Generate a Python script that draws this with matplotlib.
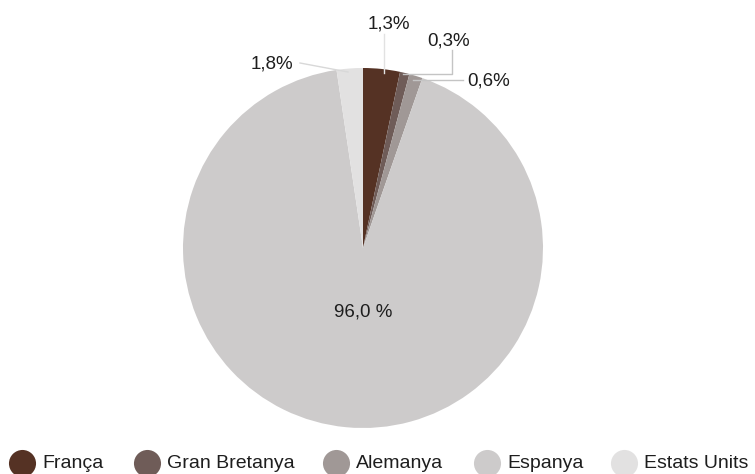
import matplotlib
matplotlib.use("Agg")
import matplotlib.pyplot as plt

plt.rcParams['font.family'] = ['Liberation Sans', 'DejaVu Sans']

# Data
categories = ["França", "Gran Bretanya", "Alemanya", "Espanya", "Estats Units"]
shares = [3.3, 0.85, 1.2, 92.3, 2.35]          # visual slice shares
labels = ["1,3%", "0,3%", "0,6%", "96,0 %", "1,8%"]
colors = ["#553224", "#6f5c58", "#a09896", "#cdcbcb", "#e2e1e1"]

W, H = 755, 474
fig = plt.figure(figsize=(W / 100, H / 100), dpi=100)

cx, cy, r = 363, 248, 180
ax = fig.add_axes([(cx - r) / W, (H - cy - r) / H, 2 * r / W, 2 * r / H])
ax.pie(shares, colors=colors, startangle=90, counterclock=False, radius=1,
       wedgeprops=dict(linewidth=0))
ax.set_xlim(-1, 1)
ax.set_ylim(-1, 1)
ax.set_aspect('equal')
ax.axis('off')

# overlay in pixel coords
ov = fig.add_axes([0, 0, 1, 1], zorder=5)
ov.set_xlim(0, W)
ov.set_ylim(H, 0)
ov.axis('off')

lc = "#c4c4c4"
fs = 13.5
tc = '#1e1e1e'
# leader lines
ov.plot([384, 384], [34, 73], color="#e2e2e2", lw=1)
ov.plot([452, 452, 403], [50, 74, 74], color=lc, lw=1)
ov.plot([413, 463], [80, 80], color=lc, lw=1)
ov.plot([300, 348], [63, 72], color="#d8d8d8", lw=1)

ov.text(389, 24, labels[0], ha='center', va='center', fontsize=fs, color=tc)
ov.text(449, 41, labels[1], ha='center', va='center', fontsize=fs, color=tc)
ov.text(467, 80.5, labels[2], ha='left', va='center', fontsize=fs, color=tc)
ov.text(293, 64, labels[4], ha='right', va='center', fontsize=fs, color=tc)
ov.text(363, 312, labels[3], ha='center', va='center', fontsize=fs, color=tc)

# legend
leg_x = [22, 147, 336, 487, 624]
leg_y = 462.5
for x, c, name in zip(leg_x, colors, categories):
    ov.plot([x], [leg_y], marker='o', markersize=19.5, color=c, markeredgewidth=0,
            clip_on=False)
    ov.text(x + 20, leg_y + 1.5, name, ha='left', va='center', fontsize=14,
            color=tc)

fig.savefig("out.png", dpi=100)
